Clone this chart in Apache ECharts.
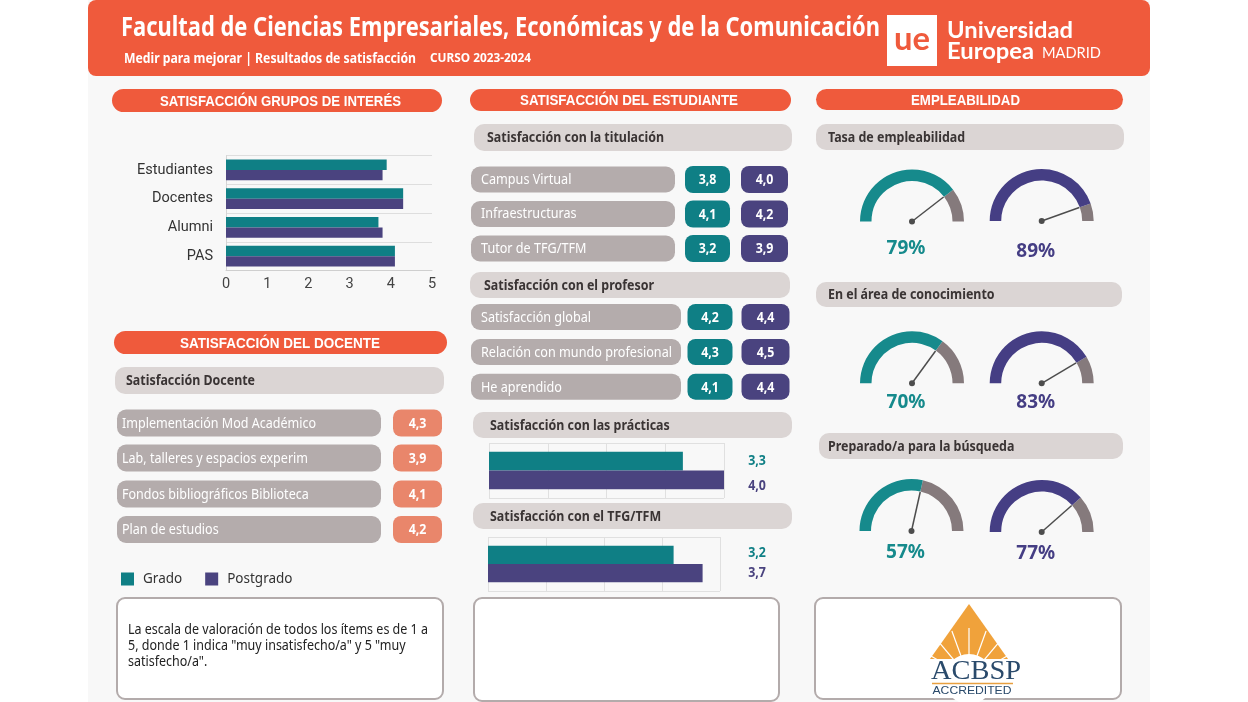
<!DOCTYPE html>
<html><head><meta charset="utf-8">
<script src="https://cdn.jsdelivr.net/npm/echarts@6/dist/echarts.min.js"></script>
<style>html,body{margin:0;padding:0;background:#fff;}#c{width:1248px;height:702px;}</style>
</head><body><div id="c"></div>
<script>
// ---------------- DATA ----------------
const seriesNames = ['Grado', 'Postgrado'];
const grupos = ['Estudiantes', 'Docentes', 'Alumni', 'PAS'];
const gruposGrado = [3.9, 4.3, 3.7, 4.1];
const gruposPostgrado = [3.8, 4.3, 3.8, 4.1];
const gruposTicks = [0, 1, 2, 3, 4, 5];

const titulacionItems = ['Campus Virtual', 'Infraestructuras', 'Tutor de TFG/TFM'];
const titulacionGrado = [3.8, 4.1, 3.2];
const titulacionPostgrado = [4.0, 4.2, 3.9];

const profesorItems = ['Satisfacción global', 'Relación con mundo profesional', 'He aprendido'];
const profesorGrado = [4.2, 4.3, 4.1];
const profesorPostgrado = [4.4, 4.5, 4.4];

const practicasCat = ['Prácticas'];
const practicasGrado = [3.3];
const practicasPostgrado = [4.0];
const tfgCat = ['TFG/TFM'];
const tfgGrado = [3.2];
const tfgPostgrado = [3.7];
const smallTicks = [0, 1, 2, 3, 4];

const docenteItems = ['Implementación Mod Académico', 'Lab, talleres y espacios experim', 'Fondos bibliográficos Biblioteca', 'Plan de estudios'];
const docenteValores = [4.3, 3.9, 4.1, 4.2];

const empleoTitulos = ['Tasa de empleabilidad', 'En el área de conocimiento', 'Preparado/a para la búsqueda'];
const empleoGrado = [79, 70, 57];
const empleoPostgrado = [89, 83, 77];

const textos = {
  titulo: 'Facultad de Ciencias Empresariales, Económicas y de la Comunicación',
  sub1: 'Medir para mejorar | Resultados de satisfacción',
  sub2: 'CURSO 2023-2024',
  grupos: 'SATISFACCIÓN GRUPOS DE INTERÉS',
  estudiante: 'SATISFACCIÓN DEL ESTUDIANTE',
  empleo: 'EMPLEABILIDAD',
  docente: 'SATISFACCIÓN DEL DOCENTE',
  titulacion: 'Satisfacción con la titulación',
  profesor: 'Satisfacción con el profesor',
  practicas: 'Satisfacción con las prácticas',
  tfg: 'Satisfacción con el TFG/TFM',
  satDocente: 'Satisfacción Docente',
  nota: ['La escala de valoración de todos los ítems es de 1 a', '5, donde 1 indica "muy insatisfecho/a" y 5 "muy', 'satisfecho/a".']
};

// ---------------- STYLE ----------------
const C = {
  orange: '#ef5a3c', teal: '#0f7f85', purple: '#4a437f',
  gTeal: '#168a8c', gPurple: '#453e84', gGray: '#857a7c',
  pill: '#b4acac', sub: '#dbd5d4', salmon: '#e9866b', dark: '#3a3434',
  border: '#b3abab', bg: '#f8f8f8'
};
const fmt = v => v.toFixed(1).replace('.', ',');

const cv = document.createElement('canvas').getContext('2d');
function measure(text, weight, size, family) {
  cv.font = weight + ' ' + size + 'px "' + family + '"';
  return cv.measureText(text).width;
}
function T(text, x, y, o) {
  o = o || {};
  const size = o.size || 13, weight = o.weight || 'normal', family = o.family || 'Noto Sans';
  let sx = o.scaleX || 1;
  if (o.fit) sx = o.fit / measure(text, weight, size, family);
  const dy = family === 'Noto Sans' ? 1 : 0;
  return { type: 'text', x: x, y: y + dy, scaleX: sx, z: o.z || 120, silent: true,
    style: { text: text, x: 0, y: 0, fill: o.color || '#fff', fontSize: size, fontWeight: weight,
      fontFamily: family, align: o.align || 'left', verticalAlign: 'middle' } };
}
function R(x, y, w, h, r, fill, o) {
  o = o || {};
  return { type: 'rect', z: (o.z !== undefined ? o.z : 110), silent: true,
    shape: { x: x, y: y, width: w, height: h, r: r },
    style: { fill: fill, stroke: o.stroke || null, lineWidth: o.lw || 0 } };
}

const els = [];
// page background and header
els.push(R(88, 0, 1062, 702, 0, C.bg, { z: -10 }));
els.push(R(88, 0, 1062, 76, 8, C.orange));
els.push(T(textos.titulo, 121, 28, { size: 26, weight: 'bold', fit: 759 }));
els.push(T(textos.sub1, 124, 58.5, { size: 13.5, weight: 'bold', fit: 292 }));
els.push(T(textos.sub2, 430, 57.5, { size: 11.5, weight: 'bold', fit: 101 }));
els.push(R(887, 15, 50, 51, 0, '#fff'));
els.push(T('ue', 912, 40, { size: 32, weight: 'bold', family: 'Lato', color: C.orange, align: 'center', fit: 36 }));
els.push(T('Universidad', 947, 31, { size: 22, weight: 'bold', family: 'Lato', fit: 126 }));
els.push(T('Europea', 947, 52, { size: 22, weight: 'bold', family: 'Lato', fit: 87 }));
els.push(T('MADRID', 1042, 53, { size: 15, family: 'Lato', fit: 59 }));

// section headers (orange pills)
const secHead = (x, y, w, h, text, cx, fit) => {
  els.push(R(x, y, w, h, h / 2, C.orange));
  els.push(T(text, cx, y + h / 2 + 1, { size: 14.5, weight: 'bold', family: 'Liberation Sans', align: 'center', fit: fit }));
};
secHead(112, 89, 330, 23, textos.grupos, 280.5, 241);
secHead(470, 89, 321, 22, textos.estudiante, 629, 218);
secHead(816, 89, 307, 21, textos.empleo, 965.5, 109);
secHead(114, 331, 333, 23, textos.docente, 280, 200);

// gray sub headers
const subScale = 177 / measure(textos.titulacion, 'bold', 14, 'Noto Sans');
const subHead = (x, y, w, h, text, tx) => {
  els.push(R(x, y, w, h, 10, C.sub));
  els.push(T(text, tx, y + h / 2, { size: 14, weight: 'bold', color: C.dark, scaleX: subScale }));
};
subHead(474, 124, 318, 27, textos.titulacion, 487);
subHead(470, 272, 320, 26, textos.profesor, 484);
subHead(473, 412, 319, 26, textos.practicas, 490);
subHead(473, 503, 319, 26, textos.tfg, 490);
subHead(816, 124, 308, 26, empleoTitulos[0], 828);
subHead(816, 282, 306, 25, empleoTitulos[1], 828);
subHead(819, 433, 304, 26, empleoTitulos[2], 828);
subHead(115, 367, 329, 27, textos.satDocente, 126);

// rows with value pills
const pillScale = 191 / measure('Relación con mundo profesional', 'normal', 13.5, 'Noto Sans');
const valPill = (x, y, w, h, v, col) => {
  els.push(R(x, y, w, h, 8, col));
  els.push(T(fmt(v), x + w / 2, y + h / 2, { size: 13.5, weight: 'bold', align: 'center', scaleX: 0.92 }));
};
const titTops = [166.5, 201, 235.5];
titulacionItems.forEach((name, i) => {
  const y = titTops[i];
  els.push(R(471, y, 204, 26, 9, C.pill));
  els.push(T(name, 481, y + 12.5, { size: 13.5, scaleX: pillScale }));
  valPill(685, y - 0.5, 45, 27, titulacionGrado[i], C.teal);
  valPill(741, y - 0.5, 47, 27, titulacionPostgrado[i], C.purple);
});
const profTops = [304, 339, 373.7];
profesorItems.forEach((name, i) => {
  const y = profTops[i];
  els.push(R(471, y, 210, 26, 9, C.pill));
  els.push(T(name, 481, y + 13, { size: 13.5, scaleX: pillScale }));
  valPill(687.5, y, 45, 26, profesorGrado[i], C.teal);
  valPill(741.5, y, 48, 26, profesorPostgrado[i], C.purple);
});
const docTops = [409.5, 444.5, 480.5, 516];
const docScale = 194 / measure(docenteItems[0], 'normal', 14, 'Noto Sans');
docenteItems.forEach((name, i) => {
  const y = docTops[i];
  els.push(R(117, y, 264, 27, 9, C.pill));
  els.push(T(name, 122, y + 13.5, { size: 14, scaleX: docScale }));
  valPill(393, y, 49, 27, docenteValores[i], C.salmon);
});

// value labels beside small bar charts
const sideLabel = (v, y, col) => els.push(T(fmt(v), 757, y, { size: 13.5, weight: 'bold', color: col, align: 'center', scaleX: 0.92 }));
sideLabel(practicasGrado[0], 460, C.teal);
sideLabel(practicasPostgrado[0], 485, C.purple);
sideLabel(tfgGrado[0], 552, C.teal);
sideLabel(tfgPostgrado[0], 572, C.purple);

// bottom boxes
els.push(R(117, 598, 326, 101, 8, '#fff', { stroke: C.border, lw: 2 }));
els.push(R(474, 598, 305, 103, 8, '#fff', { stroke: C.border, lw: 2 }));
els.push(R(815, 598, 306, 101, 8, '#fff', { stroke: C.border, lw: 2 }));
const notaScale = 300 / measure(textos.nota[0], 'normal', 13.5, 'Noto Sans');
textos.nota.forEach((line, i) => els.push(T(line, 128, 629 + i * 16, { size: 13.5, color: '#222', scaleX: notaScale })));

// ACBSP logo
els.push({ type: 'polygon', z: 120, silent: true, shape: { points: [[969, 604], [930, 659], [1008, 659]] }, style: { fill: '#f0a23b' } });
const rays = [-60, -40, -20, 0, 20, 40, 60];
rays.forEach(a => {
  const r = a * Math.PI / 180;
  els.push({ type: 'line', z: 121, silent: true, shape: { x1: 969, y1: 678, x2: 969 + Math.sin(r) * 50, y2: 678 - Math.cos(r) * 50 }, style: { stroke: '#fff', lineWidth: 1.2 } });
});
els.push({ type: 'circle', z: 122, silent: true, shape: { cx: 969, cy: 679, r: 25 }, style: { fill: '#fff' } });
els.push(T('ACBSP', 976, 672, { size: 27, family: 'Liberation Serif', color: '#2a4a6b', align: 'center', fit: 90, z: 125 }));
els.push({ type: 'line', z: 125, silent: true, shape: { x1: 932, y1: 683.5, x2: 1013, y2: 683.5 }, style: { stroke: '#e8a040', lineWidth: 1.5 } });
els.push(T('ACCREDITED', 972, 691, { size: 11.5, family: 'Liberation Sans', color: '#2a4a6b', align: 'center', fit: 79, z: 125 }));

// ---------------- CHARTS ----------------
const gaugeCenters = [[[912, 221.5], [1041.7, 221]], [[912, 383.3], [1041.7, 383.3]], [[911.5, 531], [1041.7, 532]]];
const gaugeLabelDy = [27, 19.5, 21.5];
function gauge(center, v, col, dy) {
  return {
    type: 'gauge', center: center, radius: 52, startAngle: 180, endAngle: 0, min: 0, max: 100, z: 5,
    axisLine: { lineStyle: { width: 11.5, color: [[v / 100, col], [1, C.gGray]] } },
    splitLine: { show: false }, axisTick: { show: false }, axisLabel: { show: false },
    pointer: { icon: 'rect', width: 1.5, length: 40, offsetCenter: [0, 0], itemStyle: { color: '#4d4d4d' } },
    anchor: { show: true, showAbove: true, size: 6, itemStyle: { color: '#4d4d4d' } },
    title: { show: false },
    detail: { formatter: '{value}%', offsetCenter: [-6, dy], fontSize: 19, fontWeight: 'bold', fontFamily: 'Noto Sans', color: col },
    data: [{ value: v }]
  };
}
const gaugeSeries = [];
empleoGrado.forEach((v, i) => {
  gaugeSeries.push(gauge(gaugeCenters[i][0], v, C.gTeal, gaugeLabelDy[i]));
  gaugeSeries.push(gauge(gaugeCenters[i][1], empleoPostgrado[i], C.gPurple, gaugeLabelDy[i] + (i === 0 ? 3.5 : 0)));
});

const splitCol = '#e0e0e0';
const smallX = (gi) => ({ type: 'value', gridIndex: gi, min: smallTicks[0], max: smallTicks[smallTicks.length - 1], interval: smallTicks[1] - smallTicks[0],
  axisLine: { show: false }, axisTick: { show: false }, axisLabel: { show: false }, splitLine: { show: true, lineStyle: { color: splitCol } } });
const smallY = (gi, cats) => ({ type: 'category', gridIndex: gi, data: cats, inverse: true,
  axisLine: { show: false }, axisTick: { show: false }, axisLabel: { show: false }, splitLine: { show: true, lineStyle: { color: splitCol } } });

const option = {
  animation: false,
  backgroundColor: '#fff',
  graphic: { elements: els },
  legend: {
    data: seriesNames, left: 121, top: 572, padding: 0, itemWidth: 13, itemHeight: 13, icon: 'rect', itemGap: 23,
    textStyle: { fontSize: 13.5, fontFamily: 'Noto Sans', color: '#333', padding: [3, 0, 0, 4] }
  },
  grid: [
    { left: 226, top: 155.5, width: 206, height: 115 },
    { left: 489, top: 443, width: 235, height: 55 },
    { left: 488, top: 537, width: 232, height: 54 }
  ],
  xAxis: [
    { type: 'value', gridIndex: 0, min: gruposTicks[0], max: gruposTicks[gruposTicks.length - 1], interval: gruposTicks[1] - gruposTicks[0],
      axisLine: { show: true, lineStyle: { color: '#cfcfcf' } }, axisTick: { show: false }, splitLine: { show: false },
      axisLabel: { fontSize: 14.5, color: '#444', fontFamily: 'Roboto', margin: 6 } },
    smallX(1), smallX(2)
  ],
  yAxis: [
    { type: 'category', gridIndex: 0, data: grupos, inverse: true,
      axisLine: { show: true, lineStyle: { color: '#d5d5d5' } }, axisTick: { show: false },
      splitLine: { show: true, lineStyle: { color: '#dedede' } },
      axisLabel: { fontSize: 14.5, color: '#333', fontFamily: 'Roboto', margin: 13, padding: [0, 0, 4, 0] } },
    smallY(1, practicasCat), smallY(2, tfgCat)
  ],
  series: [
    { type: 'bar', name: seriesNames[0], xAxisIndex: 0, yAxisIndex: 0, data: gruposGrado, itemStyle: { color: C.teal }, barGap: '0%', barCategoryGap: '27%' },
    { type: 'bar', name: seriesNames[1], xAxisIndex: 0, yAxisIndex: 0, data: gruposPostgrado, itemStyle: { color: C.purple }, barGap: '0%', barCategoryGap: '27%' },
    { type: 'bar', name: seriesNames[0], xAxisIndex: 1, yAxisIndex: 1, data: practicasGrado, itemStyle: { color: C.teal }, barGap: '0%', barCategoryGap: '32%' },
    { type: 'bar', name: seriesNames[1], xAxisIndex: 1, yAxisIndex: 1, data: practicasPostgrado, itemStyle: { color: C.purple }, barGap: '0%', barCategoryGap: '32%' },
    { type: 'bar', name: seriesNames[0], xAxisIndex: 2, yAxisIndex: 2, data: tfgGrado, itemStyle: { color: C.teal }, barGap: '0%', barCategoryGap: '32%' },
    { type: 'bar', name: seriesNames[1], xAxisIndex: 2, yAxisIndex: 2, data: tfgPostgrado, itemStyle: { color: C.purple }, barGap: '0%', barCategoryGap: '32%' }
  ].concat(gaugeSeries)
};
const chart = echarts.init(document.getElementById('c'), null, { renderer: 'canvas' });
chart.setOption(option);
</script></body></html>
